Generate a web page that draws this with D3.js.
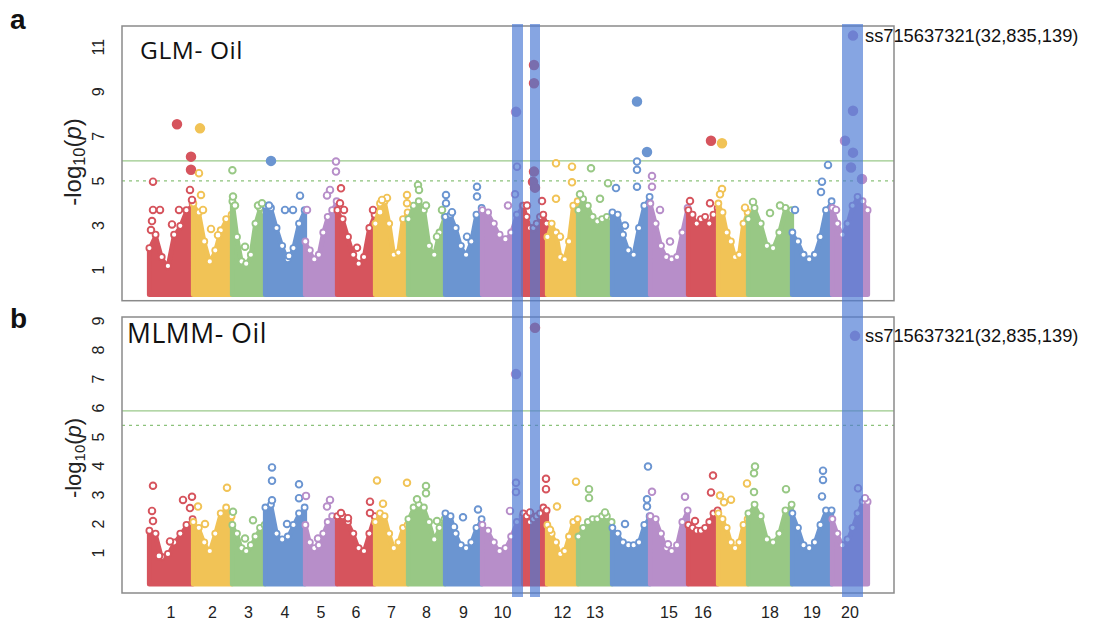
<!DOCTYPE html>
<html>
<head>
<meta charset="utf-8">
<script src="https://cdn.jsdelivr.net/npm/d3@7"></script>
<style>
  body { margin: 0; background: #fff; }
  svg { display: block; }
</style>
</head>
<body>
<svg id="chart" width="1095" height="628"></svg>
<script>
// ---- data ----
var chromosomes = d3.range(1, 21);
// approximate chromosome lengths (Mb) as drawn
var chrLen = [57.2, 50.7, 42.9, 52.0, 41.6, 49.4, 42.9, 48.1, 48.1, 53.3,
              31.2, 40.3, 44.2, 49.4, 49.4, 39.0, 39.0, 57.2, 52.0, 46.8];
var chrColors = ['#d6545d', '#f1c356', '#98c885', '#6b95d1', '#b78ec9'];
var xTickLabels = [1, 2, 3, 4, 5, 6, 7, 8, 9, 10, 12, 13, 15, 16, 18, 19, 20];
var glmTicks = [1, 3, 5, 7, 9, 11];
var mlmmTicks = [1, 2, 3, 4, 5, 6, 7, 8, 9];
var glmThresholds = [5.9, 5.0];   // solid, dashed
var mlmmThresholds = [5.9, 5.4];

// top of the dense cloud, 8 evenly spaced samples per chromosome
var glmEnvelope = [
  [1.9, 2.5, 1.5, 1.1, 2.5, 2.9, 3.6, 3.9],
  [3.9, 3.5, 2.2, 1.3, 1.8, 2.7, 3.2, 3.4],
  [4.0, 2.4, 1.3, 1.2, 1.6, 3.0, 3.7, 3.5],
  [3.8, 3.7, 2.8, 2.0, 1.4, 1.9, 3.0, 3.6],
  [2.2, 1.8, 1.4, 1.6, 2.6, 3.3, 3.6, 4.0],
  [3.6, 3.2, 2.4, 1.6, 1.2, 1.5, 2.8, 3.4],
  [3.0, 3.9, 4.0, 3.0, 1.6, 1.7, 3.2, 3.5],
  [3.2, 3.8, 4.0, 3.6, 2.0, 1.6, 2.6, 3.3],
  [3.3, 3.4, 2.8, 2.0, 1.6, 2.2, 3.4, 3.7],
  [3.6, 3.5, 3.0, 2.5, 2.3, 2.6, 3.4, 3.8],
  [3.8, 3.3, 2.8, 2.8, 3.0, 3.3, 3.4, 3.0],
  [2.4, 3.0, 2.6, 1.5, 1.4, 2.2, 3.8, 4.0],
  [3.6, 4.1, 3.8, 3.3, 3.1, 3.2, 3.3, 3.2],
  [3.5, 3.4, 2.5, 1.8, 1.6, 2.8, 3.8, 4.2],
  [3.9, 3.0, 2.0, 1.5, 1.4, 1.5, 2.6, 3.7],
  [3.6, 3.4, 3.0, 3.2, 3.3, 3.0, 3.4, 3.7],
  [3.9, 3.5, 2.6, 2.2, 1.5, 1.6, 3.0, 3.5],
  [3.2, 3.7, 3.0, 2.0, 1.9, 2.6, 3.7, 3.6],
  [2.6, 2.2, 1.6, 1.4, 1.6, 2.4, 3.6, 4.0],
  [3.7, 3.0, 2.5, 3.0, 3.8, 4.2, 4.0, 3.6]
];
var mlmmEnvelope = [
  [1.7, 1.6, 0.8, 0.9, 1.3, 1.6, 1.9, 2.1],
  [2.0, 1.8, 1.3, 1.0, 1.6, 2.3, 2.5, 2.2],
  [1.9, 1.6, 1.1, 1.0, 1.2, 1.5, 1.8, 1.9],
  [2.5, 2.6, 1.6, 1.4, 1.5, 1.9, 2.3, 2.5],
  [1.9, 1.3, 1.1, 1.2, 1.6, 2.0, 2.2, 2.1],
  [2.2, 2.2, 2.0, 1.6, 1.1, 1.0, 1.6, 2.2],
  [2.0, 2.3, 2.2, 1.6, 1.1, 1.3, 1.8, 1.9],
  [2.1, 2.5, 2.6, 2.5, 2.0, 1.4, 1.8, 2.1],
  [2.3, 2.2, 1.6, 1.2, 1.1, 1.3, 1.8, 2.1],
  [1.9, 1.7, 1.3, 1.0, 1.1, 1.5, 2.0, 2.2],
  [2.3, 2.2, 2.0, 2.1, 2.2, 2.3, 2.5, 2.4],
  [1.9, 1.6, 1.3, 0.9, 1.0, 1.5, 2.0, 2.1],
  [1.5, 1.8, 2.0, 2.1, 2.1, 2.2, 2.2, 2.0],
  [1.8, 1.6, 1.3, 1.2, 1.2, 1.3, 1.9, 2.2],
  [2.2, 2.1, 1.6, 1.1, 1.0, 1.2, 2.0, 2.4],
  [1.9, 1.8, 1.7, 1.7, 1.8, 2.0, 2.3, 2.4],
  [2.3, 2.1, 1.8, 1.3, 1.1, 1.3, 1.9, 2.1],
  [2.3, 2.6, 2.2, 1.4, 1.3, 1.6, 2.4, 2.6],
  [2.3, 1.8, 1.2, 1.1, 1.3, 1.9, 2.4, 2.4],
  [2.1, 1.6, 1.2, 1.4, 1.8, 2.3, 2.7, 2.7]
];

// single SNPs standing out of the cloud: [chromosome, position Mb, -log10(p), filled]
var glmPoints = [
  [1, 5.2, 4.97, 0], [1, 36.4, 7.54, 1], [1, 54.6, 6.09, 1], [1, 54.6, 5.5, 1],
  [1, 5.2, 3.7, 0], [1, 14.3, 3.7, 0], [1, 39.0, 3.7, 0], [1, 53.3, 4.6, 0],
  [1, 55.9, 4.15, 0], [1, 3.9, 3.2, 0], [1, 2.6, 2.8, 0], [1, 29.9, 3.05, 0],
  [2, 9.1, 7.36, 1], [2, 7.8, 5.35, 0], [2, 10.4, 4.37, 0], [2, 23.4, 2.85, 0],
  [2, 13.0, 3.7, 0], [2, 32.5, 2.57, 0],
  [3, 0.5, 5.48, 0], [3, 1.3, 4.3, 0], [3, 3.9, 3.9, 0], [3, 16.9, 2.05, 0],
  [3, 33.8, 3.9, 0], [3, 39.0, 4.0, 0],
  [4, 7.8, 5.9, 1], [4, 45.5, 4.34, 0], [4, 26.0, 3.7, 0], [4, 36.4, 3.7, 0],
  [4, 31.2, 1.64, 0], [4, 5.2, 3.9, 0],
  [5, 40.3, 5.87, 0], [5, 40.3, 5.42, 0], [5, 32.5, 4.6, 0], [5, 28.6, 4.35, 0],
  [5, 2.6, 3.7, 0],
  [6, 5.2, 4.67, 0], [6, 3.9, 4.0, 0], [6, 9.1, 3.7, 0], [6, 26.0, 2.0, 0],
  [6, 46.8, 3.7, 0],
  [7, 15.6, 4.24, 0], [7, 9.1, 4.15, 0], [7, 41.6, 4.37, 0], [7, 6.5, 3.6, 0],
  [7, 41.6, 4.0, 0],
  [8, 13.0, 4.82, 0], [8, 14.3, 4.6, 0], [8, 44.2, 3.7, 0], [8, 23.4, 3.9, 0],
  [8, 37.7, 2.5, 0],
  [9, 1.3, 4.37, 0], [9, 1.3, 4.0, 0], [9, 41.6, 4.74, 0], [9, 41.6, 4.3, 0],
  [9, 28.6, 2.5, 0], [9, 9.1, 3.6, 0],
  [10, 45.5, 5.64, 0], [10, 42.9, 4.4, 0], [10, 44.2, 8.1, 1], [10, 33.8, 3.9, 0],
  [11, 14.3, 10.2, 1], [11, 14.3, 9.38, 1], [11, 14.3, 5.42, 1], [11, 13.0, 4.96, 1],
  [11, 15.6, 4.7, 1], [11, 5.2, 3.9, 0], [11, 24.7, 4.1, 0],
  [12, 11.7, 5.79, 0], [12, 32.5, 5.64, 0], [12, 32.5, 4.94, 0], [12, 11.7, 4.2, 0],
  [12, 16.9, 2.5, 0],
  [13, 16.9, 5.57, 0], [13, 39.0, 4.9, 0], [13, 2.6, 4.4, 0], [13, 28.6, 4.2, 0],
  [14, 45.5, 6.3, 1], [14, 32.5, 5.87, 0], [14, 32.5, 5.5, 0], [14, 32.5, 4.74, 0],
  [14, 5.2, 4.68, 0], [14, 32.5, 8.56, 1], [14, 16.9, 3.0, 0],
  [15, 2.6, 5.22, 0], [15, 2.6, 4.74, 0], [15, 26.0, 2.28, 0], [15, 13.0, 3.7, 0],
  [16, 29.9, 6.8, 1], [16, 2.6, 4.1, 0], [16, 28.6, 4.0, 0],
  [17, 5.2, 6.69, 1], [17, 5.2, 4.64, 0], [17, 2.6, 4.4, 0], [17, 35.1, 3.8, 0],
  [18, 6.5, 4.06, 0], [18, 28.6, 3.56, 0], [18, 41.6, 3.9, 0],
  [19, 46.8, 5.72, 0], [19, 39.0, 4.97, 0], [19, 37.7, 4.5, 0], [19, 3.9, 3.7, 0],
  [20, 27.3, 11.52, 1], [20, 27.3, 8.15, 1], [20, 16.9, 6.8, 1], [20, 27.3, 6.27, 1],
  [20, 24.7, 5.6, 1], [20, 39.0, 5.09, 1], [20, 5.2, 3.7, 0]
];
var mlmmPoints = [
  [1, 5.2, 3.32, 0], [1, 3.9, 2.45, 0], [1, 5.2, 2.1, 0], [1, 44.2, 2.83, 0],
  [1, 55.9, 2.94, 0], [1, 53.3, 2.55, 0], [1, 27.3, 1.4, 0], [1, 13.0, 0.9, 0],
  [2, 44.2, 3.25, 0], [2, 6.5, 2.6, 0], [2, 15.6, 2.0, 0],
  [3, 1.3, 2.42, 0], [3, 27.3, 2.13, 0], [3, 16.9, 1.5, 0],
  [4, 9.1, 3.95, 0], [4, 9.1, 3.49, 0], [4, 9.1, 2.82, 0], [4, 44.2, 3.37, 0],
  [4, 44.2, 2.89, 0], [4, 28.6, 2.0, 0],
  [5, 1.3, 2.97, 0], [5, 32.5, 2.83, 0], [5, 28.6, 2.6, 0], [5, 16.9, 1.5, 0],
  [6, 5.2, 2.38, 0], [6, 14.3, 2.2, 0], [6, 42.9, 2.77, 0], [6, 42.9, 2.38, 0],
  [7, 2.6, 3.5, 0], [7, 41.6, 3.42, 0], [7, 10.4, 2.7, 0],
  [8, 23.4, 3.31, 0], [8, 23.4, 3.06, 0], [8, 11.7, 2.85, 0], [8, 37.7, 2.1, 0],
  [9, 23.4, 2.23, 0], [9, 42.9, 2.5, 0], [9, 11.7, 1.9, 0],
  [10, 36.4, 2.45, 0], [10, 44.2, 3.42, 0], [10, 44.2, 3.1, 0], [10, 44.2, 7.17, 1],
  [11, 15.6, 8.77, 1], [11, 29.9, 3.56, 0], [11, 29.9, 3.2, 0], [11, 9.1, 2.4, 0],
  [12, 37.7, 3.46, 0], [12, 13.0, 2.6, 0], [12, 3.9, 1.8, 0],
  [13, 14.3, 3.2, 0], [13, 14.3, 2.9, 0], [13, 35.1, 2.4, 0],
  [14, 46.8, 3.98, 0], [14, 45.5, 2.85, 0], [14, 45.5, 2.6, 0], [14, 16.9, 2.0, 0],
  [15, 2.6, 3.11, 0], [15, 45.5, 2.94, 0], [15, 23.4, 1.3, 0],
  [16, 32.5, 3.67, 0], [16, 29.9, 3.09, 0], [16, 9.1, 2.1, 0],
  [17, 7.8, 2.75, 0], [17, 16.9, 2.84, 0], [17, 2.6, 2.98, 0], [17, 37.7, 3.4, 0],
  [18, 9.1, 3.98, 0], [18, 7.8, 3.75, 0], [18, 7.8, 3.1, 0], [18, 49.4, 3.2, 0],
  [19, 40.3, 3.84, 0], [19, 40.3, 3.52, 0], [19, 39.0, 2.95, 0],
  [20, 33.8, 3.23, 0], [20, 42.9, 2.89, 0], [20, 29.9, 8.49, 1]
];

// highlighted loci: [chromosome, from Mb, to Mb]
var highlights = [[10, 39.0, 53.3], [11, 9.1, 22.1], [20, 13.0, 40.3]];
var leadSnp = 'ss715637321(32,835,139)';

// ---- layout ----
var svg = d3.select('#chart');
var box = {left: 122, right: 894};
var panels = [
  {name: 'GLM- Oil', letter: 'a', top: 26, bottom: 300.7, domain: [-0.37, 11.95],
   ticks: glmTicks, env: glmEnvelope, pts: glmPoints, thr: glmThresholds,
   titleX: 140, titleY: 59, titleSize: 24.5, ylabSize: 24, ylabX: 81, ylabY: 162,
   letterY: 29, snp: 11.52},
  {name: 'MLMM- Oil', letter: 'b', top: 317, bottom: 593, domain: [-0.38, 9.14],
   ticks: mlmmTicks, env: mlmmEnvelope, pts: mlmmPoints, thr: mlmmThresholds,
   titleX: 127, titleY: 343, titleSize: 26.5, ylabSize: 22, ylabX: 81, ylabY: 458,
   letterY: 328, snp: 8.49}
];

var offsets = [];
var acc = 0;
chrLen.forEach(function(l){ offsets.push(acc); acc += l; });
var total = acc;

var x_scale = d3.scaleLinear().domain([0, total]).range([149, 868]);
function gx(chr, pos){ return x_scale(offsets[chr - 1] + pos); }
function colorOf(chr){ return chrColors[(chr - 1) % 5]; }

panels.forEach(function(p){
  var y_scale = d3.scaleLinear().domain(p.domain).range([p.bottom, p.top]);
  var g = svg.append('g');

  // dense cloud per chromosome
  var area = d3.area()
      .x(function(d){ return d[0]; })
      .y0(y_scale(0) + 2)
      .y1(function(d){ return d[1]; });
  chromosomes.forEach(function(chr, i){
    var vals = p.env[i];
    var n = vals.length;
    var pts = vals.map(function(v, k){
      var pos = 0.5 + (chrLen[i] - 1) * k / (n - 1);
      return [gx(chr, pos), y_scale(v)];
    });
    g.append('path')
      .attr('d', area(pts))
      .attr('fill', colorOf(chr))
      .attr('stroke', colorOf(chr))
      .attr('stroke-width', 5)
      .attr('stroke-linejoin', 'round');
    g.selectAll(null).data(pts).enter().append('circle')
      .attr('cx', function(d){ return d[0]; })
      .attr('cy', function(d){ return d[1] - 2; })
      .attr('r', 3)
      .attr('fill', '#fff')
      .attr('stroke', colorOf(chr))
      .attr('stroke-width', 1.8);
  });

  // threshold lines
  g.append('line')
    .attr('x1', box.left).attr('x2', box.right)
    .attr('y1', y_scale(p.thr[0])).attr('y2', y_scale(p.thr[0]))
    .attr('stroke', '#9ac98a').attr('stroke-width', 1.3);
  g.append('line')
    .attr('x1', box.left).attr('x2', box.right)
    .attr('y1', y_scale(p.thr[1])).attr('y2', y_scale(p.thr[1]))
    .attr('stroke', '#8cc27b').attr('stroke-width', 1.3)
    .attr('stroke-dasharray', '3,4');

  // outstanding SNPs
  g.selectAll('.snp').data(p.pts).enter().append('circle')
    .attr('class', 'snp')
    .attr('cx', function(d){ return gx(d[0], d[1]); })
    .attr('cy', function(d){ return y_scale(d[2]); })
    .attr('r', function(d){ return d[3] ? 4.3 : 3.3; })
    .attr('fill', function(d){ return d[3] ? colorOf(d[0]) : '#fff'; })
    .attr('stroke', function(d){ return colorOf(d[0]); })
    .attr('stroke-width', 1.9);

  // frame
  g.append('rect')
    .attr('x', box.left).attr('y', p.top)
    .attr('width', box.right - box.left).attr('height', p.bottom - p.top)
    .attr('fill', 'none').attr('stroke', '#8a8a8a').attr('stroke-width', 1.5);

  // y tick labels, parallel to the axis
  g.selectAll('.ytick').data(p.ticks).enter().append('text')
    .attr('transform', function(d){ return 'translate(104,' + y_scale(d) + ') rotate(-90)'; })
    .attr('text-anchor', 'middle')
    .attr('font-family', 'Liberation Sans, Arial, sans-serif')
    .attr('font-size', 16)
    .attr('fill', '#222')
    .text(function(d){ return d; });

  // y axis title
  var yl = g.append('text')
    .attr('transform', 'translate(' + p.ylabX + ',' + p.ylabY + ') rotate(-90)')
    .attr('text-anchor', 'middle')
    .attr('font-family', 'Liberation Sans, Arial, sans-serif')
    .attr('font-size', p.ylabSize)
    .attr('fill', '#222');
  yl.append('tspan').text('-log');
  yl.append('tspan').attr('font-size', p.ylabSize * 0.68).attr('dy', 4).text('10');
  yl.append('tspan').attr('dy', -4).text('(');
  yl.append('tspan').attr('font-style', 'italic').text('p');
  yl.append('tspan').text(')');

  // panel title and letter
  g.append('text')
    .attr('x', p.titleX).attr('y', p.titleY)
    .attr('font-family', 'Open Sans, Noto Sans, sans-serif')
    .attr('font-size', p.titleSize)
    .attr('letter-spacing', 0.6)
    .attr('fill', '#111')
    .text(p.name);
  g.append('text')
    .attr('x', 10).attr('y', p.letterY)
    .attr('font-family', 'Liberation Sans, Arial, sans-serif')
    .attr('font-weight', 'bold')
    .attr('font-size', 28)
    .attr('fill', '#111')
    .text(p.letter);

  // lead SNP label
  g.append('text')
    .attr('x', 865).attr('y', y_scale(p.snp) + 6)
    .attr('font-family', 'Liberation Sans, Arial, sans-serif')
    .attr('font-size', 18.3)
    .attr('fill', '#111')
    .text(leadSnp);
});

// highlight bands spanning both panels
svg.selectAll('.band').data(highlights).enter().append('rect')
  .attr('class', 'band')
  .attr('x', function(d){ return gx(d[0], d[1]); })
  .attr('width', function(d){ return gx(d[0], d[2]) - gx(d[0], d[1]); })
  .attr('y', 24).attr('height', 573)
  .attr('fill', '#4d7bd4').attr('fill-opacity', 0.68);

// chromosome labels
svg.selectAll('.xtick').data(xTickLabels).enter().append('text')
  .attr('class', 'xtick')
  .attr('x', function(d){ return gx(d, chrLen[d - 1] / 2); })
  .attr('y', 618)
  .attr('text-anchor', 'middle')
  .attr('font-family', 'Liberation Sans, Arial, sans-serif')
  .attr('font-size', 16)
  .attr('fill', '#222')
  .text(function(d){ return d; });
</script>
</body>
</html>
